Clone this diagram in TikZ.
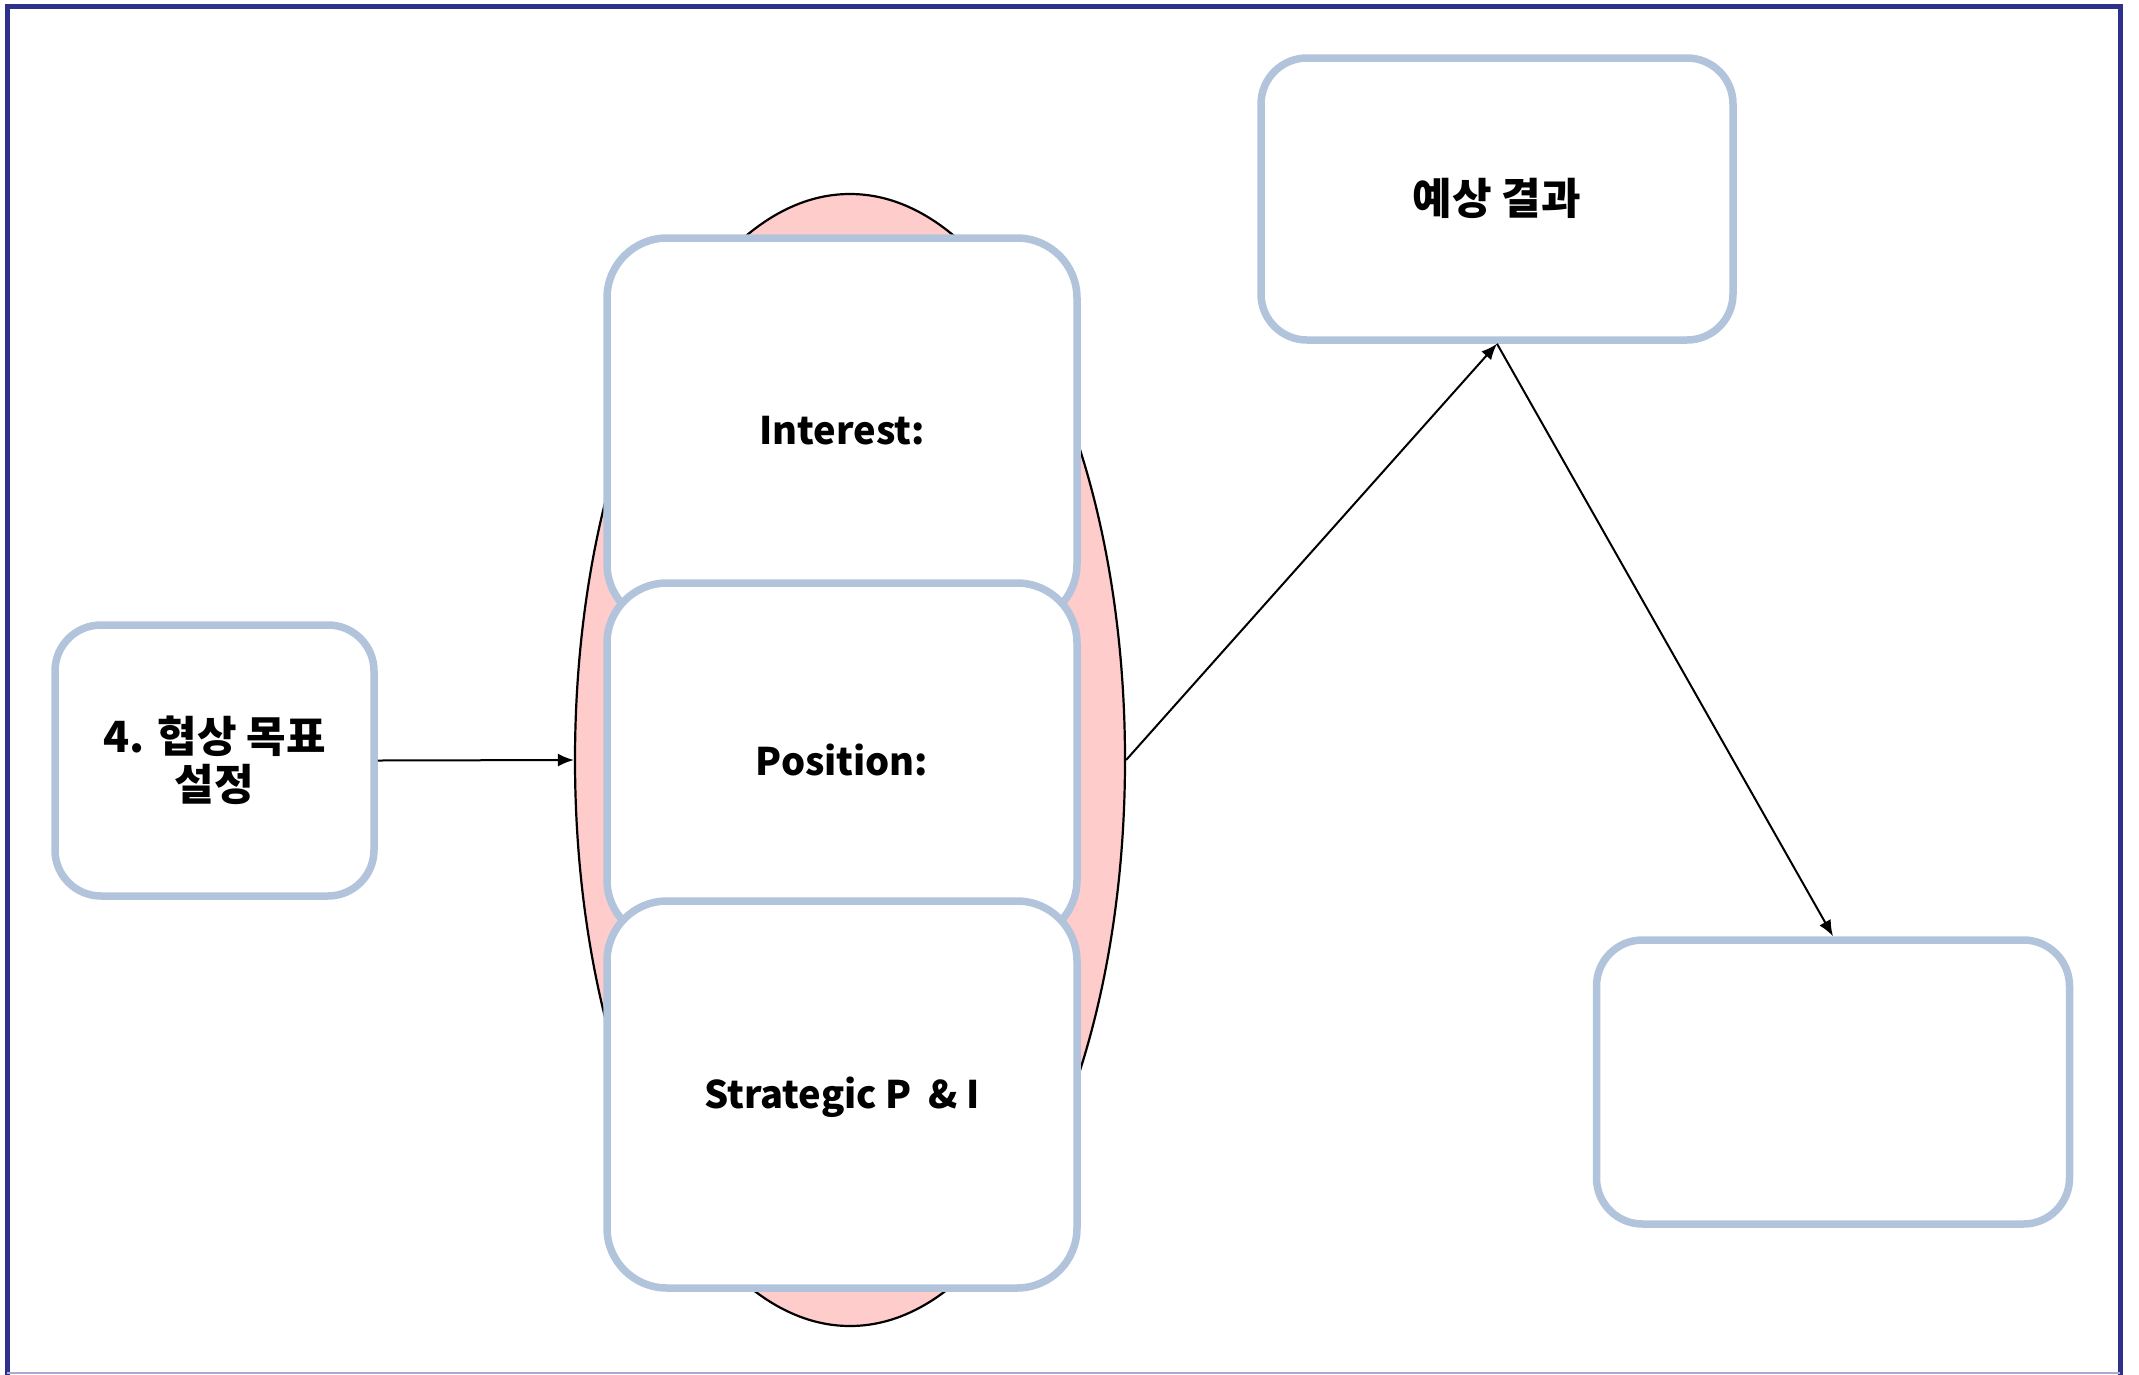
\documentclass[tikz,border=0pt]{standalone}
\usepackage{fontspec}
\setmainfont{Noto Sans CJK KR}
\usetikzlibrary{arrows.meta,shapes.geometric}
\definecolor{framec}{RGB}{46,49,140}
\definecolor{framelight}{RGB}{170,170,210}
\definecolor{boxc}{RGB}{178,196,220}
\definecolor{pinkc}{RGB}{255,204,204}
\begin{document}
\begin{tikzpicture}[x=1pt,y=-1pt,
  basebox/.style={draw=boxc, line width=7.5pt, fill=white, inner sep=0pt, align=center,
    font=\fontsize{38}{48}\selectfont\bfseries},
  kfont/.style={font=\fontsize{43}{48}\selectfont\bfseries},
  bigbox/.style={basebox, rounded corners=60pt, minimum width=470pt, text height=27pt, text depth=0pt},
  smallbox/.style={basebox, rounded corners=46pt},
  arr/.style={line width=2pt, -{Latex[length=16pt,width=13pt]}}]
\useasboundingbox (0,0) rectangle (2139,1374);
% frame
\draw[framec, line width=5pt] (7,1376) -- (7,6) -- (2120,6) -- (2120,1376);
\draw[framelight, line width=1.5pt] (7,1373) -- (2120,1373);
% ellipse
\node[ellipse, draw=black, line width=2.2pt, fill=pinkc, minimum width=550pt, minimum height=1132pt, inner sep=0pt] (ell) at (850,760) {};
% stacked boxes
\node[bigbox, minimum height=386pt] (int) at (842,431) {Interest:};
\node[bigbox, minimum height=357pt] (pos) at (842,761.5) {Position:};
\node[bigbox, minimum height=387pt] (str) at (842,1094.5) {Strategic P\hspace{0.2em} \& I};
% other boxes
\node[smallbox, kfont, minimum width=319pt, minimum height=271pt] (goal) at (214.5,760.5) {4. 협상 목표\\설정};
\node[smallbox, kfont, minimum width=472pt, minimum height=282pt, text height=30pt, text depth=0pt] (res) at (1497,199) {예상 결과};
\node[smallbox, minimum width=473pt, minimum height=284pt] (out) at (1833,1082) {};
% connectors
\draw[arr] (goal.east) -- (ell.west);
\draw[arr] (ell.east) -- (res.south);
\draw[arr] (res.south) -- (out.north);
\end{tikzpicture}
\end{document}
